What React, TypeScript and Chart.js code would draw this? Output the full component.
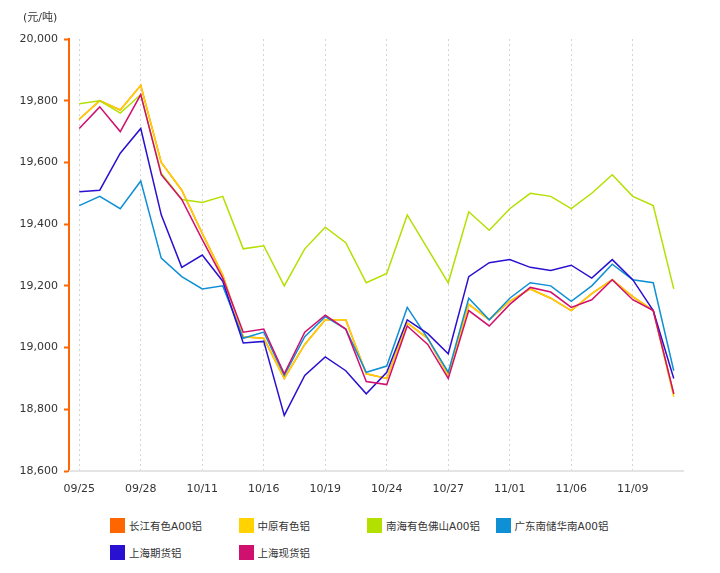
import React, { useEffect, useRef } from "react";
import { Chart, registerables } from "chart.js";

Chart.register(...registerables);

const categories = [
  "09/25", "09/26", "09/27", "09/28", "10/09", "10/10", "10/11", "10/12", "10/15", "10/16",
  "10/17", "10/18", "10/19", "10/22", "10/23", "10/24", "10/25", "10/26", "10/27", "10/30",
  "10/31", "11/01", "11/02", "11/05", "11/06", "11/07", "11/08", "11/09", "11/12", "11/13",
];

const changjiang = [19740, 19800, 19770, 19850, 19600, 19510, 19370, 19235, 19035, 19030, 18900, 19010, 19090, 19090, 18915, 18900, 19080, 19030, 18910, 19140, 19090, 19150, 19190, 19160, 19120, 19175, 19220, 19165, 19120, 18850];
const zhongyuan = [19740, 19800, 19770, 19850, 19600, 19510, 19370, 19235, 19035, 19030, 18900, 19010, 19090, 19090, 18915, 18900, 19080, 19030, 18910, 19140, 19090, 19150, 19190, 19160, 19120, 19175, 19220, 19165, 19120, 18840];
const nanhai = [19790, 19800, 19760, 19820, 19565, 19480, 19470, 19490, 19320, 19330, 19200, 19320, 19390, 19340, 19210, 19240, 19430, 19320, 19210, 19440, 19380, 19450, 19500, 19490, 19450, 19500, 19560, 19490, 19460, 19190];
const guangdong = [19460, 19490, 19450, 19540, 19290, 19230, 19190, 19200, 19030, 19050, 18910, 19035, 19100, 19060, 18920, 18940, 19130, 19030, 18920, 19160, 19090, 19160, 19210, 19200, 19150, 19200, 19270, 19220, 19210, 18925];
const shfutures = [19505, 19510, 19630, 19710, 19430, 19260, 19300, 19215, 19015, 19020, 18780, 18910, 18970, 18925, 18850, 18920, 19090, 19045, 18980, 19230, 19275, 19285, 19260, 19250, 19267, 19225, 19285, 19220, 19120, 18900];
const shspot = [19710, 19780, 19700, 19820, 19560, 19480, 19350, 19225, 19050, 19060, 18915, 19050, 19105, 19060, 18890, 18880, 19070, 19010, 18900, 19120, 19070, 19140, 19195, 19180, 19130, 19155, 19220, 19155, 19120, 18850];

const seriesNames = ["长江有色A00铝", "中原有色铝", "南海有色佛山A00铝", "广东南储华南A00铝", "上海期货铝", "上海现货铝"];
const seriesColors = ["#ff6600", "#ffd200", "#b3e000", "#0f8fd4", "#2a10d0", "#d0106e"];
const seriesData = [changjiang, zhongyuan, nanhai, guangdong, shfutures, shspot];

const yMin = 18600;
const yMax = 20000;
const yStep = 200;
const unitLabel = "(元/吨)";
const FONT = '"DejaVu Sans", "Noto Sans CJK SC", sans-serif';

export default function App() {
  const ref = useRef<HTMLCanvasElement | null>(null);

  useEffect(() => {
    if (!ref.current) return;
    const unitPlugin = {
      id: "unitLabel",
      afterDraw(chart: any) {
        const { ctx, chartArea } = chart;
        ctx.save();
        ctx.font = `11px ${FONT}`;
        ctx.fillStyle = "#333";
        ctx.textAlign = "left";
        ctx.textBaseline = "middle";
        ctx.fillText(unitLabel, chartArea.left - 46, chartArea.top - 21);
        ctx.restore();
      },
    };
    const xAxisLine = {
      id: "xAxisLine",
      beforeDatasetsDraw(chart: any) {
        const { ctx, chartArea } = chart;
        ctx.save();
        ctx.strokeStyle = "#e4e4e4";
        ctx.lineWidth = 2;
        ctx.setLineDash([]);
        ctx.beginPath();
        ctx.moveTo(chartArea.left, chartArea.bottom);
        ctx.lineTo(chartArea.right, chartArea.bottom);
        ctx.stroke();
        ctx.restore();
      },
    };
    const chart = new Chart(ref.current, {
      type: "line",
      data: {
        labels: categories,
        datasets: seriesData.map((d, i) => ({
          label: seriesNames[i],
          data: d,
          borderColor: seriesColors[i],
          backgroundColor: seriesColors[i],
          borderWidth: 1.5,
          pointRadius: 0,
          pointHoverRadius: 0,
          tension: 0,
          fill: false,
          order: seriesData.length - i,
        })),
      },
      options: {
        responsive: false,
        animation: false,
        layout: { padding: { left: 11, right: 28, top: 31, bottom: 0 } },
        plugins: {
          legend: { display: false },
          tooltip: { enabled: false },
          title: { display: false },
        },
        scales: {
          x: {
            type: "category",
            offset: true,
            afterFit: (s: any) => { s.height = 37; },
            border: { display: false, dash: [2, 3] },
            grid: {
              offset: false,
              drawTicks: false,
              color: (c: any) => (c.index % 3 === 0 ? "#d4d4d4" : "rgba(0,0,0,0)"),
              lineWidth: 1,
            },
            ticks: {
              autoSkip: false,
              maxRotation: 0,
              padding: 12,
              color: "#333",
              font: { family: FONT, size: 11 },
              callback: (_v: any, i: number) => (i % 3 === 0 ? categories[i] : ""),
            },
          },
          y: {
            min: yMin,
            max: yMax,
            afterFit: (s: any) => { s.width = 50; },
            border: { display: true, color: "#ff6600", width: 2 },
            grid: {
              drawOnChartArea: false,
              drawTicks: true,
              tickLength: 5,
              tickColor: "#ff6600",
              tickWidth: 2,
            },
            ticks: {
              stepSize: yStep,
              padding: 6,
              color: "#333",
              font: { family: FONT, size: 11 },
              callback: (v: any) => Number(v).toLocaleString("en-US"),
            },
          },
        },
      },
      plugins: [unitPlugin, xAxisLine],
    } as any);
    return () => chart.destroy();
  }, []);

  return (
    <div style={{ width: 704, fontFamily: FONT }}>
      <canvas ref={ref} width={704} height={500} style={{ display: "block" }} />
      <div style={{ position: "relative", height: 60 }}>
        {seriesNames.map((name, i) => {
          const col = i % 4;
          const row = Math.floor(i / 4);
          return (
            <div
              key={name}
              style={{
                position: "absolute",
                left: 102 + col * 128.5,
                top: 10 + row * 27,
                display: "flex",
                alignItems: "center",
                height: 15,
                fontSize: 10.5,
                color: "#333",
                whiteSpace: "nowrap",
              }}
            >
              <span style={{ display: "inline-block", width: 15, height: 15, background: seriesColors[i], marginRight: 4 }} />
              <span>{name}</span>
            </div>
          );
        })}
      </div>
    </div>
  );
}
